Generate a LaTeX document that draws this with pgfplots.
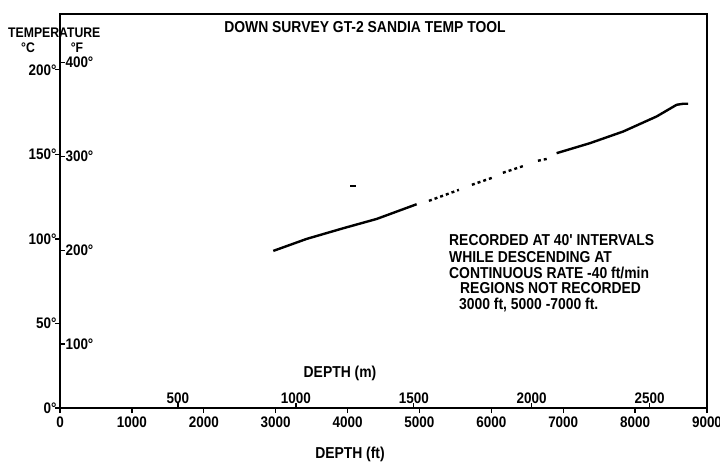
\documentclass[border=0pt]{standalone}
\usepackage{fontspec}
\setmainfont{Liberation Sans}
\newfontfamily\condfont{Liberation Sans}[FakeStretch=0.88]
\usepackage{pgfplots}
\pgfplotsset{compat=1.18}
\begin{document}
\begin{tikzpicture}[x=1pt,y=1pt]
\useasboundingbox (0pt,0pt) rectangle (720pt,466pt);
% main axis: depth (ft) vs temperature (deg C)
\begin{axis}[
  at={(60pt,58pt)}, anchor=south west,
  width=647pt, height=394pt, scale only axis,
  xmin=0, xmax=9000, ymin=0, ymax=233,
  axis line style={line width=1.8pt, black},
  xtick={0,1000,2000,3000,4000,5000,6000,7000,8000,9000},
  xticklabels={0,1000,2000,3000,4000,5000,6000,7000,8000,9000},
  ytick={0,50,100,150,200},
  yticklabels={0°,50°,100°,150°,200°},
  xtick pos=bottom, ytick pos=left,
  tick align=outside, major tick length=5pt,
  tick style={line width=1.3pt, black},
  every tick label/.append style={font=\condfont\fontsize{15.3}{17}\bfseries\selectfont},
  yticklabel style={xshift=5pt},
]
\addplot[black, line width=2.4pt] coordinates {
  (2967,92.9) (3431,100.0) (3940,106.3) (4405,111.8) (4961,120.5)
};
\addplot[black, line width=2.4pt, dash pattern=on 3pt off 3pt] coordinates {
  (5132,122.5) (5549,129.0)
};
\addplot[black, line width=2.4pt, dash pattern=on 3pt off 3pt] coordinates {
  (5730,132.0) (6008,136.1)
};
\addplot[black, line width=2.4pt, dash pattern=on 3pt off 3pt] coordinates {
  (6161,139.1) (6453,143.2)
};
\addplot[black, line width=2.4pt, dash pattern=on 3pt off 3pt] coordinates {
  (6648,146.2) (6773,147.3)
};
\addplot[black, line width=2.4pt] coordinates {
  (6908,150.7) (7371,156.6) (7834,163.5) (8299,172.4) (8577,179.3) (8665,179.9) (8739,179.9)
};
\addplot[black, line width=2pt] coordinates {
  (4035,131.4) (4115,131.4)
};
\end{axis}
% secondary scales: deg F on the temperature axis, metres on the depth axis
\begin{axis}[
  at={(60pt,58pt)}, anchor=south west,
  width=647pt, height=394pt, scale only axis,
  xmin=0, xmax=9000, ymin=0, ymax=233,
  axis line style={draw=none},
  xtick={1640.42,3280.84,4921.26,6561.68,8202.10},
  xticklabels={500,1000,1500,2000,2500},
  ytick={37.78,93.33,148.89,204.44},
  yticklabels={100°,200°,300°,400°},
  xtick pos=bottom, ytick pos=left,
  tick align=inside, major tick length=5pt,
  tick style={line width=1.3pt, black},
  every tick label/.append style={font=\condfont\fontsize{15.3}{17}\bfseries\selectfont},
  xticklabel style={anchor=south, yshift=1pt},
  yticklabel style={anchor=west, xshift=2pt},
]
\end{axis}
\begin{scope}[every node/.style={inner sep=0pt, font=\condfont\fontsize{15.8}{18}\bfseries\selectfont}]
\node[anchor=center] at (365pt,439pt) {DOWN SURVEY GT-2 SANDIA TEMP TOOL};
\node[anchor=west, font=\condfont\fontsize{13.9}{16}\bfseries\selectfont] at (8pt,433pt) {TEMPERATURE};
\node[anchor=center, font=\condfont\fontsize{13.9}{16}\bfseries\selectfont] at (28pt,418pt) {°C};
\node[anchor=center, font=\condfont\fontsize{13.9}{16}\bfseries\selectfont] at (77pt,418pt) {°F};
\node[anchor=center] at (340pt,93pt) {DEPTH (m)};
\node[anchor=center] at (350pt,12pt) {DEPTH (ft)};
\node[anchor=west] at (449pt,226pt) {RECORDED AT 40' INTERVALS};
\node[anchor=west] at (449pt,209pt) {WHILE DESCENDING AT};
\node[anchor=west] at (449pt,193pt) {CONTINUOUS RATE -40 ft/min};
\node[anchor=west] at (460pt,178pt) {REGIONS NOT RECORDED};
\node[anchor=west] at (459pt,161pt) {3000 ft, 5000 -7000 ft.};
\end{scope}
\end{tikzpicture}
\end{document}
